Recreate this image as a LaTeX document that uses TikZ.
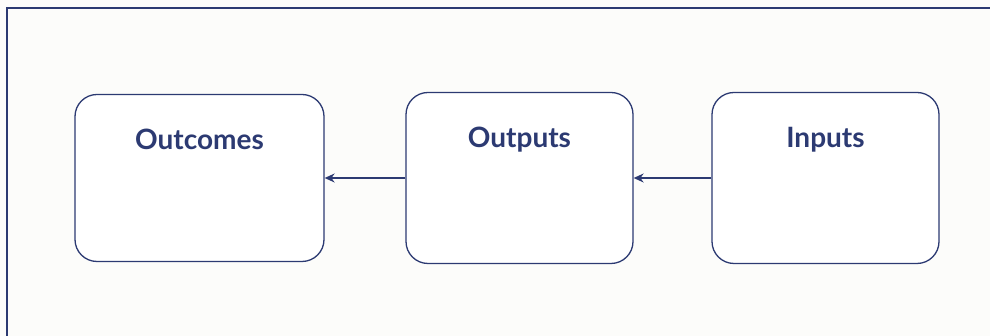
\documentclass[tikz,border=0pt]{standalone}
\usepackage{fontspec}
\setmainfont{Lato}
\usepackage{tikz}
\usetikzlibrary{arrows.meta}

\definecolor{navy}{HTML}{2C3A72}
\definecolor{paper}{HTML}{FCFCFA}

\begin{document}
\begin{tikzpicture}[>={Stealth[length=10pt,width=9pt]}, node distance=306pt, x=1pt, y=1pt]
				\tikzstyle{box} = [draw=navy, line width=1.3pt, rounded corners=22pt, fill=white, minimum width=227pt, minimum height=171pt, inner sep=0pt]
				\tikzstyle{title} = [font=\fontsize{28}{32}\selectfont\bfseries, text=navy, anchor=base, yshift=-56pt]
				% page and frame
				\fill[paper] (0,0) rectangle (990,336);
				\useasboundingbox (0,0) rectangle (990,336);
				\draw[navy, line width=1.3pt] (7,0) -- (7,328) -- (990,328);
				\begin{scope}
					\path[->, line width=1.4pt, navy]
					node[box, label={[title]north:Outputs}] (outputs) at (519.5,158) {}
					node[box, right of=outputs, label={[title]north:Inputs}] (inputs) {}
					node[box, left of=outputs, node distance=320pt, minimum width=249pt, minimum height=167pt, label={[title]north:Outcomes}] (outcomes) {}
					(inputs) edge (outputs)
					(outputs) edge (outcomes)
					;
				\end{scope}
\end{tikzpicture}
\end{document}
